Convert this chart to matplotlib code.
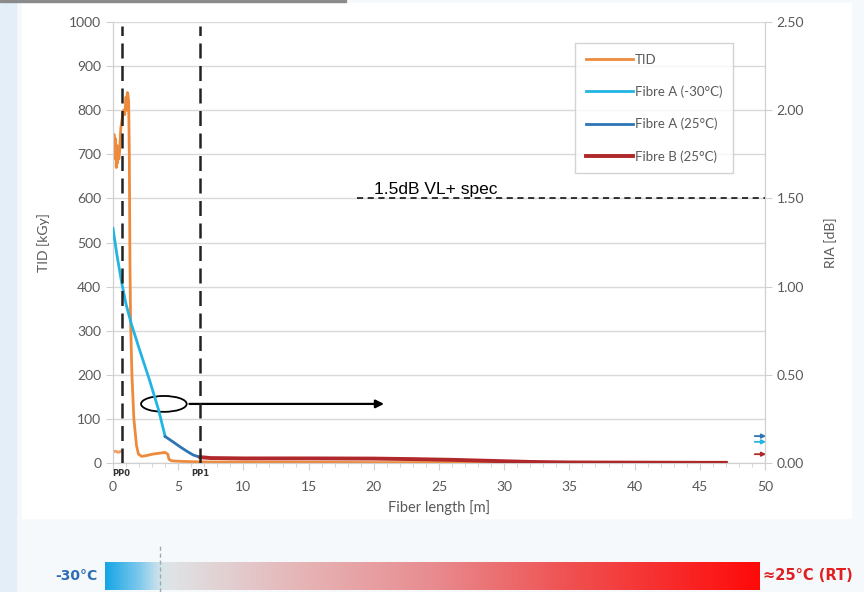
import numpy as np
import matplotlib
matplotlib.use("Agg")
import matplotlib.pyplot as plt
from matplotlib.patches import Ellipse
from matplotlib.colors import LinearSegmentedColormap

plt.rcParams['font.family'] = ['Lato', 'DejaVu Sans']

# ---------------- data ----------------
tid_x = [0.0, 0.08, 0.15, 0.2, 0.25, 0.3, 0.35, 0.4, 0.45, 0.5, 0.6, 0.7, 0.8, 0.9,
         1.0, 1.05, 1.1, 1.15, 1.2, 1.25, 1.3, 1.35, 1.45, 1.6, 1.8, 1.95, 2.2, 2.6,
         3.0, 3.5, 4.0, 4.2, 4.3, 4.5, 5.0, 6.0, 8.0, 10.0, 15.0, 20.0, 30.0, 40.0, 47.0]
tid_y = [720, 745, 690, 735, 670, 720, 680, 700, 690, 705, 760, 780, 800, 790,
         830, 800, 840, 835, 820, 700, 450, 320, 200, 100, 40, 20, 15, 17,
         20, 22, 24, 20, 8, 5, 4, 3, 2, 2, 1.5, 1, 1, 0.5, 0.5]
tid_low_x = [0.0, 0.2, 0.4, 0.55]
tid_low_y = [25, 27, 24, 26]

fa_cold_x = [0.0, 0.3, 0.67, 1.0, 1.4, 2.0, 2.8, 3.5, 4.0]
fa_cold_y = [1.33, 1.18, 1.02, 0.90, 0.79, 0.65, 0.47, 0.30, 0.15]

fa_rt_x = [4.0, 4.6, 5.14, 5.7, 6.16, 6.7]
fa_rt_y = [0.15, 0.12, 0.092, 0.065, 0.045, 0.032]

fb_rt_x = [6.7, 7.5, 10, 15, 20, 23, 26, 28, 30, 32, 35, 40, 45, 47]
fb_rt_y = [0.033, 0.028, 0.026, 0.026, 0.025, 0.022, 0.018, 0.014, 0.010, 0.006,
           0.003, 0.002, 0.001, 0.001]

pp_x = [0.67, 6.7]
pp_labels = ["PP0", "PP1"]
spec_db = 1.5
spec_label = "1.5dB VL+ spec"

x_ticks = list(range(0, 51, 5))
left_ticks = list(range(0, 1001, 100))
right_ticks = [0.0, 0.5, 1.0, 1.5, 2.0, 2.5]

c_tid = '#EE8A3C'
c_cold = '#22B4E2'
c_rt = '#2E75B6'
c_b = '#B0282A'
grey = '#595959'

# ---------------- figure ----------------
fig = plt.figure(figsize=(8.64, 5.92), dpi=100, facecolor='#F6F9FC')
# pale blue band on left / top grey bar / white chart area
fig.patches.append(plt.Rectangle((0.025, 0.125), 0.96, 0.87, transform=fig.transFigure,
                                 color='white', zorder=-10))
fig.patches.append(plt.Rectangle((0, 0), 0.018, 1, transform=fig.transFigure,
                                 color='#E3EEF8', zorder=-9))
fig.patches.append(plt.Rectangle((0, 0.996), 0.40, 0.004, transform=fig.transFigure,
                                 color='#8A8A8A', zorder=-9))

ax = fig.add_axes([0.1308, 0.2179, 0.7546, 0.7449])
ax.set_facecolor('white')
ax2 = ax.twinx()

ax.set_xlim(0, 50)
ax.set_ylim(0, 1000)
ax2.set_ylim(0, 2.5)

ax.set_xticks(x_ticks)
ax.set_xticks(range(0, 51, 1), minor=True)
ax.set_yticks(left_ticks)
ax2.set_yticks(right_ticks)
ax2.set_yticklabels([f"{v:.2f}" for v in right_ticks])

ax.grid(axis='y', color='#D9D9D9', linewidth=1.0)
ax.set_axisbelow(True)

for a in (ax, ax2):
    for s in a.spines.values():
        s.set_color('#D0D0D0')
    a.spines['top'].set_visible(False)
ax.tick_params(axis='both', which='major', colors='#D0D0D0', labelcolor=grey,
               labelsize=10, length=5)
ax.tick_params(axis='x', which='minor', colors='#D0D0D0', length=3)
ax.tick_params(axis='x', which='major', pad=8)
ax2.tick_params(axis='y', colors='#D0D0D0', labelcolor=grey, labelsize=10, length=5)

ax.set_xlabel("Fiber length [m]", color=grey, fontsize=10.5, labelpad=5)
ax.set_ylabel("TID [kGy]", color=grey, fontsize=10, labelpad=14)
ax2.set_ylabel("RIA [dB]", color=grey, fontsize=10, labelpad=14)

# lines
l1, = ax.plot(tid_x, tid_y, color=c_tid, lw=2.0, label='TID', zorder=3)
ax.plot(tid_low_x, tid_low_y, color=c_tid, lw=2.0, alpha=0.8, zorder=3)
l2, = ax2.plot(fa_cold_x, fa_cold_y, color=c_cold, lw=2.0, label='Fibre A (-30°C)', zorder=3)
l3, = ax2.plot(fa_rt_x, fa_rt_y, color=c_rt, lw=2.0, label='Fibre A (25°C)', zorder=3)
l4, = ax2.plot(fb_rt_x, fb_rt_y, color=c_b, lw=2.8, label='Fibre B (25°C)', zorder=3)

# PP dashed verticals
for xv, lab in zip(pp_x, pp_labels):
    ax2.axvline(xv, ymin=0, ymax=0.99, color='#222222', lw=1.8, ls=(0, (6, 3)), zorder=4)
    ax.text(xv, -14, lab, ha='center', va='top', fontsize=6, fontweight='bold',
            color='#333333', family=['DejaVu Sans'])

# spec line
ax2.plot([18.7, 50], [spec_db, spec_db], color='black', lw=1.1, ls=(0, (4, 3)), zorder=4)
ax2.text(20.0, spec_db + 0.01, spec_label, fontsize=12.5, color='black',
         family=['Liberation Sans'], va='bottom', ha='left')

# ellipse + arrow
ax.add_patch(Ellipse((3.9, 134), 3.5, 36, fill=False, ec='black', lw=1.3, zorder=5))
ax.annotate('', xy=(21.0, 134), xytext=(5.65, 134),
            arrowprops=dict(arrowstyle='-|>', color='black', lw=1.6, mutation_scale=12),
            zorder=5)

# small arrows on the right
for yv, col in zip([61, 48, 20], [c_rt, c_cold, c_b]):
    ax.annotate('', xy=(50.3, yv), xytext=(49.0, yv), annotation_clip=False,
                arrowprops=dict(arrowstyle='-|>', color=col, lw=1.3, mutation_scale=6))

# legend
leg = ax.legend(handles=[l1, l2, l3, l4], loc='upper left',
                bbox_to_anchor=(0.709, 0.952), frameon=True, fontsize=9.5,
                handlelength=3.6, handletextpad=0.1, labelspacing=1.5,
                borderpad=0.8, fancybox=False, borderaxespad=0)
leg.get_frame().set_edgecolor('#C8C8C8')
leg.get_frame().set_linewidth(1.0)
for t in leg.get_texts():
    t.set_color(grey)

# bottom temperature bar
cax = fig.add_axes([105 / 864, 1 - 590 / 592, (760 - 105) / 864, 28 / 592])
cmap = LinearSegmentedColormap.from_list('temp', [
    (0.0, '#18A6E6'), (0.05, '#7CC8EC'), (0.085, '#D7E6EC'), (0.1, '#DFE3E5'),
    (0.3, '#E6B4B6'), (0.5, '#E88C90'), (0.72, '#F04E4E'), (1.0, '#FF0A0A')])
grad = np.linspace(0, 1, 512).reshape(1, -1)
cax.imshow(grad, aspect='auto', cmap=cmap, extent=[0, 1, 0, 1])
cax.set_axis_off()
fig.add_artist(plt.Line2D([160 / 864, 160 / 864], [0.0, 1 - 545 / 592],
                          transform=fig.transFigure, color='#A0A8AC', lw=1.0,
                          ls=(0, (3, 2))))
fig.text(98 / 864, 1 - 576 / 592, "-30°C", ha='right', va='center', fontsize=10,
         fontweight='bold', color='#2E6DB4', family=['Liberation Sans Narrow', 'DejaVu Sans'])
fig.text(763 / 864, 1 - 576 / 592, "≈25°C (RT)", ha='left', va='center', fontsize=10.5,
         fontweight='bold', color='#E02020', family=['Liberation Sans Narrow', 'DejaVu Sans'])

fig.savefig('out.png', dpi=100, facecolor=fig.get_facecolor())
